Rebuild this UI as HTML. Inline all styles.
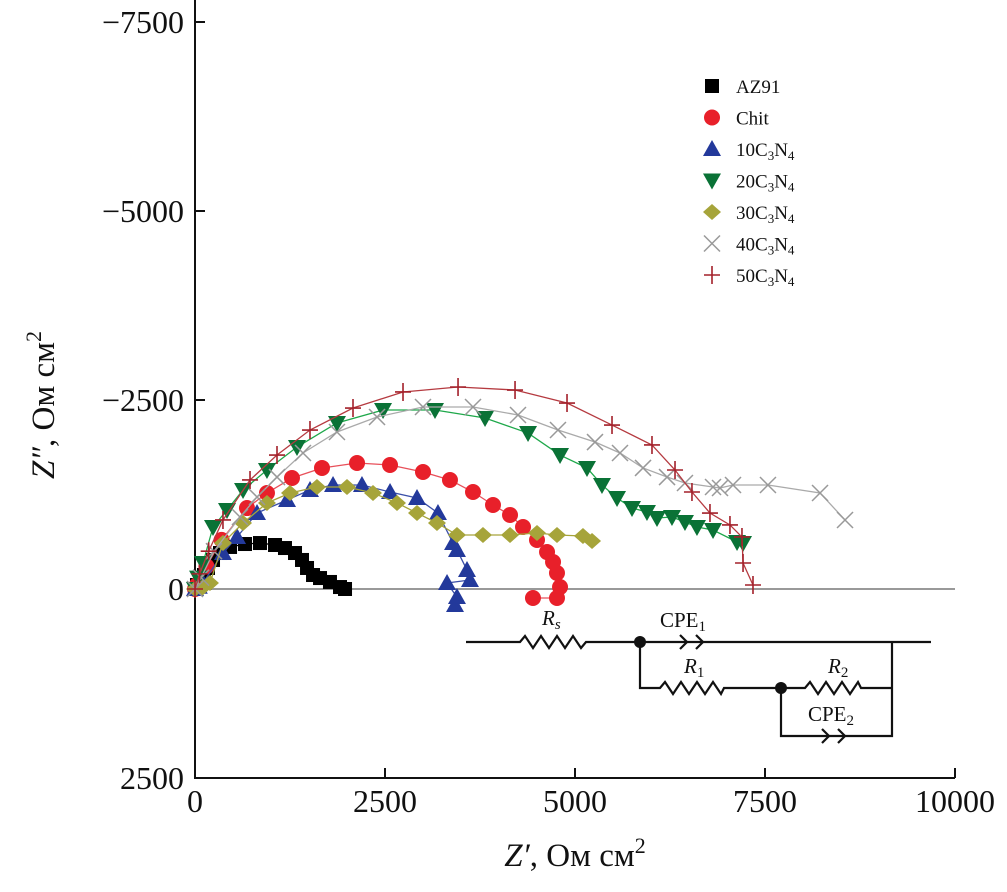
<!DOCTYPE html>
<html><head><meta charset="utf-8"><style>
body{margin:0;background:#fff}
svg text{font-family:"Liberation Serif",serif}
</style></head><body>
<svg id="chart" width="1007" height="887" viewBox="0 0 1007 887">
<g id="axes"></g>
<g id="plot"></g>
<g id="legend"></g>
<g id="circuit" stroke="#111" stroke-width="2.2" fill="none">
<path d="M466 642H520l5 -6l8 12l8 -12l8 12l8 -12l8 12l8 -12l8 12l5 -6H931"/>
<path d="M640 642V688H660l5 -6l8 12l8 -12l8 12l8 -12l8 12l8 -12l8 12l3 -6H805l5 -6l8 12l8 -12l8 12l8 -12l8 12l8 -12l3 6H892"/>
<path d="M892 642V736H781V688"/>
<path d="M680 635l7 7l-7 7M696 635l7 7l-7 7" fill="none"/>
<path d="M822 729l7 7l-7 7M838 729l7 7l-7 7" fill="none"/>
<circle cx="640" cy="642" r="6" fill="#111" stroke="none"/>
<circle cx="781" cy="688" r="6" fill="#111" stroke="none"/>
</g>
<g font-size="21" fill="#111">
<text x="542" y="625" font-style="italic">R<tspan font-size="15" dy="4">s</tspan></text>
<text x="660" y="627">CPE<tspan font-size="15" dy="4">1</tspan></text>
<text x="684" y="673" font-style="italic">R<tspan font-size="15" dy="4" font-style="normal">1</tspan></text>
<text x="828" y="673" font-style="italic">R<tspan font-size="15" dy="4" font-style="normal">2</tspan></text>
<text x="808" y="721">CPE<tspan font-size="15" dy="4">2</tspan></text>
</g>
</svg>
<script>
const xTicks=[0,2500,5000,7500,10000];
const yTicks=[-7500,-5000,-2500,0,2500];
const yTickLabels=["\u22127500","\u22125000","\u22122500","0","2500"];
const seriesNames=["AZ91","Chit","10C3N4","20C3N4","30C3N4","40C3N4","50C3N4"];
const az91X=[0,26,66,118,171,237,329,461,658,855,1053,1184,1316,1408,1474,1553,1645,1776,1908,1974];
const az91Y=[0,-53,-119,-185,-278,-384,-476,-556,-595,-608,-582,-542,-476,-384,-278,-185,-145,-93,-26,0];
const chitX=[0,26,150,350,684,947,1276,1671,2132,2566,3000,3355,3658,3921,4145,4316,4500,4632,4711,4763,4803,4763,4447];
const chitY=[0,-53,-300,-650,-1071,-1270,-1468,-1601,-1667,-1640,-1548,-1442,-1283,-1111,-979,-820,-648,-489,-357,-212,-26,119,119];
const c10X=[0,50,105,368,553,816,1211,1513,1816,2197,2566,2921,3197,3395,3447,3579,3618,3316,3447,3421];
const c10Y=[0,-30,-79,-476,-688,-1005,-1177,-1310,-1376,-1376,-1283,-1204,-1005,-608,-516,-251,-119,-79,106,212];
const c20X=[0,40,105,237,421,632,947,1342,1868,2474,3158,3816,4382,4803,5158,5355,5553,5750,5947,6079,6276,6447,6605,6816,7132,7211];
const c20Y=[0,-150,-344,-820,-1045,-1310,-1574,-1878,-2196,-2368,-2368,-2262,-2063,-1772,-1601,-1376,-1204,-1071,-1019,-939,-952,-886,-820,-780,-622,-608];
const c30X=[0,100,197,368,632,947,1250,1605,2000,2342,2658,2921,3184,3447,3789,4145,4500,4763,5105,5224];
const c30Y=[0,-20,-79,-608,-873,-1138,-1270,-1349,-1349,-1270,-1138,-1005,-873,-714,-714,-714,-741,-714,-701,-635];
const c40X=[0,80,250,592,816,1079,1421,1868,2395,3000,3658,4250,4776,5263,5592,5895,6211,6447,6816,6908,7079,7539,8224,8553];
const c40Y=[0,-150,-500,-952,-1217,-1481,-1799,-2077,-2275,-2407,-2407,-2302,-2103,-1944,-1799,-1601,-1481,-1402,-1349,-1336,-1376,-1376,-1270,-913];
const c50X=[0,60,180,368,724,1079,1513,2079,2737,3461,4211,4895,5487,6013,6316,6539,6776,7039,7197,7211,7342];
const c50Y=[0,-200,-500,-913,-1442,-1772,-2103,-2394,-2606,-2672,-2632,-2460,-2169,-1905,-1574,-1283,-1005,-847,-688,-344,-53];

const NS="http://www.w3.org/2000/svg";
const X0=195,X1=955,Ytop=22,Ybot=778;
function sx(v){return X0+(v-0)/10000*(X1-X0);}
function sy(v){return Ytop+(v+7500)/10000*(Ybot-Ytop);}
function mk(t,a,p){const e=document.createElementNS(NS,t);for(const k in a)e.setAttribute(k,a[k]);p.appendChild(e);return e;}
const axes=document.getElementById('axes'),plot=document.getElementById('plot'),leg=document.getElementById('legend');
let l=mk('line',{x1:sx(0),x2:sx(10000),y1:sy(0),y2:sy(0),stroke:'#999','stroke-width':2},axes);


l=mk('path',{d:`M${X0} 0V${Ybot}H${X1}`,stroke:'#111','stroke-width':2,fill:'none'},axes);


xTicks.forEach(v=>{const x=sx(v);
 let t=mk('line',{x1:x,x2:x,y1:Ybot,y2:Ybot-10,stroke:'#111','stroke-width':2},axes);
 
 
 let tx=mk('text',{x:x,y:Ybot+34,'font-size':32,'text-anchor':'middle',fill:'#111'},axes);tx.textContent=v;
 
 
});
yTicks.forEach((v,i)=>{const y=sy(v);
 let t=mk('line',{x1:X0,x2:X0+10,y1:y,y2:y,stroke:'#111','stroke-width':2},axes);
 
 
 let tx=mk('text',{x:184,y:y+11,'font-size':32,'text-anchor':'end',fill:'#111'},axes);tx.textContent=yTickLabels[i];
 
 
});
let xt=mk('text',{x:575,y:866,'font-size':33,'text-anchor':'middle',fill:'#111'},axes);
xt.innerHTML='<tspan font-style="italic">Z′</tspan>, Ом см<tspan font-size="22" dy="-13">2</tspan>';


let yt=mk('text',{transform:'translate(54,405) rotate(-90)','font-size':33,'text-anchor':'middle',fill:'#111'},axes);
yt.innerHTML='<tspan font-style="italic">Z″</tspan>, Ом см<tspan font-size="22" dy="-13">2</tspan>';



const series=[[az91X,az91Y,'#000','square'],[chitX,chitY,'#e8202a','circle'],[c10X,c10Y,'#23399b','tri'],[c20X,c20Y,'#0a7236','tridown'],[c30X,c30Y,'#a6a43a','diamond'],[c40X,c40Y,'#999','x'],[c50X,c50Y,'#a3202a','plus']];
const lineCols=['#000','#e8505a','#3b4fa8','#1ea84a','#a6a43a','#aaa','#b53a40'];
function marker(g,type,x,y,c){
 if(type==='square')return mk('rect',{x:x-7,y:y-7,width:14,height:14,fill:c},g);
 if(type==='circle')return mk('circle',{cx:x,cy:y,r:8,fill:c},g);
 if(type==='tri')return mk('path',{d:`M${x} ${y-9}L${x+9} ${y+7}H${x-9}Z`,fill:c},g);
 if(type==='tridown')return mk('path',{d:`M${x} ${y+9}L${x+9} ${y-7}H${x-9}Z`,fill:c},g);
 if(type==='diamond')return mk('path',{d:`M${x} ${y-8}L${x+9} ${y}L${x} ${y+8}L${x-9} ${y}Z`,fill:c},g);
 if(type==='x')return mk('path',{d:`M${x-8} ${y-8}L${x+8} ${y+8}M${x+8} ${y-8}L${x-8} ${y+8}`,stroke:c,'stroke-width':1.5,fill:'none'},g);
 return mk('path',{d:`M${x-8} ${y}H${x+8}M${x} ${y-9}V${y+9}`,stroke:c,'stroke-width':1.6,fill:'none'},g);
}
series.forEach((s,i)=>{
 const g=mk('g',{},plot);
 
 
 const pts=s[0].map((v,j)=>sx(v)+','+sy(s[1][j])).join(' ');
 const pl=mk('polyline',{points:pts,fill:'none',stroke:lineCols[i],'stroke-width':1.3},g);
 
 
 s[0].forEach((v,j)=>{const m=marker(g,s[3],sx(v),sy(s[1][j]),s[2]);
  
  });
 const ly=86+i*31.5;
 const lg=mk('g',{},leg);
 
 
 marker(lg,s[3],712,ly,s[2]);
 const tx=mk('text',{x:736,y:ly+7,'font-size':19,fill:'#111'},lg);
 tx.innerHTML=i<2?seriesNames[i]:seriesNames[i].slice(0,2)+'C<tspan font-size="13" dy="4">3</tspan><tspan dy="-4">N</tspan><tspan font-size="13" dy="4">4</tspan>';
});
</script>
</body></html>
